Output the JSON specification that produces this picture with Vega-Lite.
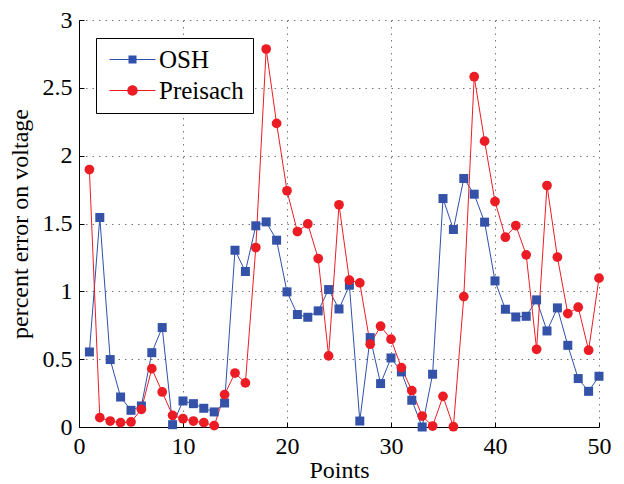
{
  "$schema": "https://vega.github.io/schema/vega-lite/v6.json",
  "autosize": "none",
  "width": 520,
  "height": 407,
  "padding": {"left": 79, "top": 20, "right": 25, "bottom": 57},
  "background": "white",
  "config": {
    "view": {"stroke": null},
    "font": "Liberation Serif",
    "style": {
      "guide-label": {"font": "Liberation Serif", "fontSize": 24, "fill": "black"},
      "guide-title": {"font": "Liberation Serif", "fontSize": 24, "fill": "black", "fontWeight": "normal"}
    },
    "axis": {
      "labelFont": "Liberation Serif",
      "titleFont": "Liberation Serif",
      "labelFontSize": 24,
      "titleFontSize": 24,
      "titleFontWeight": "normal",
      "labelColor": "black",
      "titleColor": "black",
      "domainColor": "black",
      "domainWidth": 1,
      "tickColor": "black",
      "tickSize": -5,
      "labelPadding": 12,
      "labelFlush": false,
      "grid": true,
      "gridColor": "#777777",
      "gridDash": [1.5, 5],
      "gridWidth": 1
    },
    "legend": {
      "labelFont": "Liberation Serif",
      "labelFontSize": 25,
      "labelColor": "black"
    }
  },
  "datasets": {
    "pts": [
      {"x": 1, "series": "OSH", "v": 0.553},
      {"x": 2, "series": "OSH", "v": 1.544},
      {"x": 3, "series": "OSH", "v": 0.497},
      {"x": 4, "series": "OSH", "v": 0.221},
      {"x": 5, "series": "OSH", "v": 0.123},
      {"x": 6, "series": "OSH", "v": 0.155},
      {"x": 7, "series": "OSH", "v": 0.548},
      {"x": 8, "series": "OSH", "v": 0.733},
      {"x": 9, "series": "OSH", "v": 0.017},
      {"x": 10, "series": "OSH", "v": 0.192},
      {"x": 11, "series": "OSH", "v": 0.172},
      {"x": 12, "series": "OSH", "v": 0.138},
      {"x": 13, "series": "OSH", "v": 0.111},
      {"x": 14, "series": "OSH", "v": 0.177},
      {"x": 15, "series": "OSH", "v": 1.303},
      {"x": 16, "series": "OSH", "v": 1.146},
      {"x": 17, "series": "OSH", "v": 1.483},
      {"x": 18, "series": "OSH", "v": 1.512},
      {"x": 19, "series": "OSH", "v": 1.377},
      {"x": 20, "series": "OSH", "v": 0.996},
      {"x": 21, "series": "OSH", "v": 0.829},
      {"x": 22, "series": "OSH", "v": 0.809},
      {"x": 23, "series": "OSH", "v": 0.856},
      {"x": 24, "series": "OSH", "v": 1.013},
      {"x": 25, "series": "OSH", "v": 0.870},
      {"x": 26, "series": "OSH", "v": 1.045},
      {"x": 27, "series": "OSH", "v": 0.044},
      {"x": 28, "series": "OSH", "v": 0.659},
      {"x": 29, "series": "OSH", "v": 0.320},
      {"x": 30, "series": "OSH", "v": 0.509},
      {"x": 31, "series": "OSH", "v": 0.406},
      {"x": 32, "series": "OSH", "v": 0.197},
      {"x": 33, "series": "OSH", "v": 0.0},
      {"x": 34, "series": "OSH", "v": 0.389},
      {"x": 35, "series": "OSH", "v": 1.684},
      {"x": 36, "series": "OSH", "v": 1.456},
      {"x": 37, "series": "OSH", "v": 1.832},
      {"x": 38, "series": "OSH", "v": 1.716},
      {"x": 39, "series": "OSH", "v": 1.510},
      {"x": 40, "series": "OSH", "v": 1.077},
      {"x": 41, "series": "OSH", "v": 0.868},
      {"x": 42, "series": "OSH", "v": 0.811},
      {"x": 43, "series": "OSH", "v": 0.816},
      {"x": 44, "series": "OSH", "v": 0.937},
      {"x": 45, "series": "OSH", "v": 0.708},
      {"x": 46, "series": "OSH", "v": 0.878},
      {"x": 47, "series": "OSH", "v": 0.602},
      {"x": 48, "series": "OSH", "v": 0.357},
      {"x": 49, "series": "OSH", "v": 0.263},
      {"x": 50, "series": "OSH", "v": 0.374},
      {"x": 1, "series": "Preisach", "v": 1.898},
      {"x": 2, "series": "Preisach", "v": 0.069},
      {"x": 3, "series": "Preisach", "v": 0.044},
      {"x": 4, "series": "Preisach", "v": 0.032},
      {"x": 5, "series": "Preisach", "v": 0.037},
      {"x": 6, "series": "Preisach", "v": 0.130},
      {"x": 7, "series": "Preisach", "v": 0.430},
      {"x": 8, "series": "Preisach", "v": 0.258},
      {"x": 9, "series": "Preisach", "v": 0.086},
      {"x": 10, "series": "Preisach", "v": 0.061},
      {"x": 11, "series": "Preisach", "v": 0.044},
      {"x": 12, "series": "Preisach", "v": 0.032},
      {"x": 13, "series": "Preisach", "v": 0.010},
      {"x": 14, "series": "Preisach", "v": 0.239},
      {"x": 15, "series": "Preisach", "v": 0.398},
      {"x": 16, "series": "Preisach", "v": 0.325},
      {"x": 17, "series": "Preisach", "v": 1.323},
      {"x": 18, "series": "Preisach", "v": 2.786},
      {"x": 19, "series": "Preisach", "v": 2.238},
      {"x": 20, "series": "Preisach", "v": 1.741},
      {"x": 21, "series": "Preisach", "v": 1.441},
      {"x": 22, "series": "Preisach", "v": 1.497},
      {"x": 23, "series": "Preisach", "v": 1.242},
      {"x": 24, "series": "Preisach", "v": 0.524},
      {"x": 25, "series": "Preisach", "v": 1.638},
      {"x": 26, "series": "Preisach", "v": 1.082},
      {"x": 27, "series": "Preisach", "v": 1.062},
      {"x": 28, "series": "Preisach", "v": 0.610},
      {"x": 29, "series": "Preisach", "v": 0.743},
      {"x": 30, "series": "Preisach", "v": 0.647},
      {"x": 31, "series": "Preisach", "v": 0.438},
      {"x": 32, "series": "Preisach", "v": 0.268},
      {"x": 33, "series": "Preisach", "v": 0.081},
      {"x": 34, "series": "Preisach", "v": 0.007},
      {"x": 35, "series": "Preisach", "v": 0.226},
      {"x": 36, "series": "Preisach", "v": 0.002},
      {"x": 37, "series": "Preisach", "v": 0.961},
      {"x": 38, "series": "Preisach", "v": 2.582},
      {"x": 39, "series": "Preisach", "v": 2.107},
      {"x": 40, "series": "Preisach", "v": 1.662},
      {"x": 41, "series": "Preisach", "v": 1.399},
      {"x": 42, "series": "Preisach", "v": 1.485},
      {"x": 43, "series": "Preisach", "v": 1.269},
      {"x": 44, "series": "Preisach", "v": 0.573},
      {"x": 45, "series": "Preisach", "v": 1.780},
      {"x": 46, "series": "Preisach", "v": 1.252},
      {"x": 47, "series": "Preisach", "v": 0.836},
      {"x": 48, "series": "Preisach", "v": 0.883},
      {"x": 49, "series": "Preisach", "v": 0.566},
      {"x": 50, "series": "Preisach", "v": 1.097}
    ]
  },
  "data": {"name": "pts"},
  "encoding": {
    "x": {
      "field": "x", "type": "quantitative",
      "scale": {"domain": [0, 50], "nice": false, "zero": false},
      "axis": {"values": [0, 10, 20, 30, 40, 50], "title": "Points", "titlePadding": 0, "labelFont": "Liberation Serif", "labelFlush": false}
    },
    "y": {
      "field": "v", "type": "quantitative",
      "scale": {"domain": [0, 3], "nice": false},
      "axis": {"values": [0, 0.5, 1, 1.5, 2, 2.5, 3], "format": "~g", "title": "percent error on voltage", "titlePadding": 10, "labelFont": "Liberation Serif", "labelFlush": false}
    }
  },
  "layer": [
    {
      "transform": [{"filter": "datum.series === 'OSH'"}],
      "mark": {"type": "line", "strokeWidth": 1, "color": "#2f50ac", "clip": false}
    },
    {
      "transform": [{"filter": "datum.series === 'Preisach'"}],
      "mark": {"type": "line", "strokeWidth": 1, "color": "#ec1c24", "clip": false}
    },
    {
      "transform": [{"filter": "datum.series === 'OSH'"}],
      "mark": {"type": "point", "shape": "square", "filled": true, "size": 81, "color": "#3352a8", "opacity": 1}
    },
    {
      "transform": [{"filter": "datum.series === 'Preisach'"}],
      "mark": {"type": "point", "shape": "circle", "filled": true, "size": 95, "color": "#ec1c24", "opacity": 1}
    },
    {
      "mark": {"type": "point", "filled": true, "opacity": 1, "size": 0},
      "encoding": {
        "color": {
          "field": "series", "type": "nominal",
          "scale": {"domain": ["OSH", "Preisach"], "range": ["#2f50ac", "#ec1c24"]},
          "legend": {
            "title": null,
            "orient": "none",
            "legendX": 17,
            "legendY": 18,
            "padding": 9,
            "strokeColor": "black",
            "fillColor": "white",
            "symbolSize": 400,
            "symbolOffset": 15,
            "symbolStrokeWidth": 0,
            "labelOffset": 14,
            "rowPadding": 5
          }
        },
        "shape": {
          "field": "series", "type": "nominal",
          "scale": {
            "domain": ["OSH", "Preisach"],
            "range": [
              "M-2.3,-0.05H2.3V0.05H-2.3Z M-0.4,-0.4H0.4V0.4H-0.4Z",
              "M-2.3,-0.05H2.3V0.05H-2.3Z M-0.52,0A0.52,0.52 0 1,1 0.52,0A0.52,0.52 0 1,1 -0.52,0Z"
            ]
          },
          "legend": {
            "title": null,
            "orient": "none",
            "legendX": 17,
            "legendY": 18,
            "padding": 9,
            "strokeColor": "black",
            "fillColor": "white",
            "symbolSize": 400,
            "symbolOffset": 15,
            "symbolStrokeWidth": 0,
            "labelOffset": 14,
            "rowPadding": 5
          }
        }
      }
    }
  ]
}
